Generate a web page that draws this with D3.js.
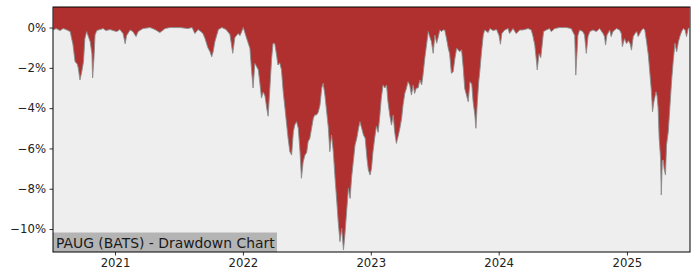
<!DOCTYPE html>
<html><head><meta charset="utf-8">
<script src="https://cdn.jsdelivr.net/npm/d3@7"></script>
<style>body{margin:0;background:#fff}svg{display:block}</style>
</head><body>
<svg id="c" width="700" height="280"></svg>
<script>
const dates = ["2020-07-09","2020-07-17","2020-07-28","2020-08-06","2020-08-14","2020-08-26","2020-09-03","2020-09-09","2020-09-15","2020-09-18","2020-09-23","2020-09-28","2020-10-03","2020-10-07","2020-10-12","2020-10-17","2020-10-22","2020-10-27","2020-10-29","2020-11-02","2020-11-05","2020-11-10","2020-11-19","2020-11-28","2020-12-06","2020-12-18","2020-12-26",
"2021-01-06","2021-01-15","2021-01-24","2021-01-30","2021-02-03","2021-02-13","2021-02-21","2021-03-02","2021-03-08","2021-03-22","2021-04-11","2021-04-25","2021-05-09","2021-05-24","2021-06-07","2021-07-05","2021-07-28","2021-08-09","2021-08-17","2021-08-26","2021-09-03","2021-09-09","2021-09-15","2021-09-23","2021-09-29","2021-10-04","2021-10-08","2021-10-13","2021-10-23","2021-11-02","2021-11-14","2021-11-25","2021-12-03","2021-12-09","2021-12-18","2021-12-24",
"2022-01-02","2022-01-11","2022-01-21","2022-01-26","2022-01-30","2022-02-04","2022-02-08","2022-02-14","2022-02-18","2022-02-23","2022-02-28","2022-03-05","2022-03-10","2022-03-14","2022-03-19","2022-03-24","2022-03-28","2022-04-02","2022-04-07","2022-04-11","2022-04-16","2022-04-21","2022-04-26","2022-05-01","2022-05-05","2022-05-10","2022-05-15","2022-05-20","2022-05-25","2022-05-29","2022-06-03","2022-06-08","2022-06-13","2022-06-17","2022-06-22","2022-06-27","2022-07-02","2022-07-06","2022-07-11","2022-07-16","2022-07-21","2022-07-25","2022-07-30","2022-08-04","2022-08-09","2022-08-14","2022-08-18","2022-08-23","2022-08-28","2022-09-02","2022-09-06","2022-09-11","2022-09-16","2022-09-21","2022-09-26","2022-09-30","2022-10-05","2022-10-10","2022-10-15","2022-10-19","2022-10-24","2022-10-29","2022-11-03","2022-11-07","2022-11-12","2022-11-17","2022-11-22","2022-11-27","2022-12-01","2022-12-06","2022-12-11","2022-12-16","2022-12-21","2022-12-25","2022-12-30",
"2023-01-03","2023-01-07","2023-01-12","2023-01-17","2023-01-22","2023-01-27","2023-01-31","2023-02-05","2023-02-10","2023-02-15","2023-02-19","2023-02-24","2023-03-01","2023-03-06","2023-03-10","2023-03-15","2023-03-20","2023-03-25","2023-03-30","2023-04-03","2023-04-08","2023-04-13","2023-04-17","2023-04-22","2023-04-27","2023-05-02","2023-05-06","2023-05-11","2023-05-16","2023-05-21","2023-05-26","2023-05-30","2023-06-04","2023-06-09","2023-06-14","2023-06-18","2023-06-23","2023-06-28","2023-07-03","2023-07-08","2023-07-12","2023-07-17","2023-07-22","2023-07-26","2023-07-31","2023-08-05","2023-08-10","2023-08-14","2023-08-19","2023-08-24","2023-08-29","2023-09-03","2023-09-07","2023-09-12","2023-09-17","2023-09-22","2023-09-26","2023-10-01","2023-10-06","2023-10-11","2023-10-16","2023-10-20","2023-10-25","2023-10-28","2023-11-01","2023-11-05","2023-11-08","2023-11-13","2023-11-18","2023-11-22","2023-12-02","2023-12-07","2023-12-16","2023-12-26",
"2024-01-02","2024-01-06","2024-01-10","2024-01-18","2024-01-28","2024-02-01","2024-02-11","2024-02-20","2024-03-01","2024-03-10","2024-03-25","2024-04-03","2024-04-08","2024-04-13","2024-04-18","2024-04-20","2024-04-25","2024-04-30","2024-05-05","2024-05-08","2024-05-16","2024-05-25","2024-05-30","2024-06-09","2024-06-23","2024-07-12","2024-07-26","2024-08-05","2024-08-08","2024-08-11","2024-08-14","2024-08-19","2024-08-28","2024-09-02","2024-09-07","2024-09-12","2024-09-17","2024-09-26","2024-10-06","2024-10-15","2024-10-25","2024-10-29","2024-11-01","2024-11-05","2024-11-13","2024-11-17","2024-11-22","2024-12-02","2024-12-11","2024-12-16","2024-12-19","2024-12-25","2024-12-31",
"2025-01-05","2025-01-10","2025-01-14","2025-01-19","2025-01-24","2025-01-29","2025-02-02","2025-02-12","2025-02-17","2025-02-21","2025-02-26","2025-03-03","2025-03-08","2025-03-12","2025-03-15","2025-03-19","2025-03-25","2025-03-28","2025-03-31","2025-04-03","2025-04-07","2025-04-09","2025-04-12","2025-04-15","2025-04-17","2025-04-21","2025-04-24","2025-04-29","2025-05-04","2025-05-09","2025-05-13","2025-05-18","2025-05-23","2025-05-28","2025-06-01","2025-06-06","2025-06-11","2025-06-16","2025-06-20","2025-06-25","2025-06-28"];
const drawdown = [-0.12,-0.05,-0.15,-0.05,-0.1,-0.2,-0.85,-1.7,-1.8,-2.0,-2.6,-2.2,-1.7,-0.55,-0.2,-0.45,-0.7,-1.3,-2.5,-1.5,-0.37,-0.15,-0.1,-0.05,-0.15,-0.1,-0.15,
-0.2,-0.1,-0.3,-0.8,-0.4,-0.12,-0.2,-0.45,-0.2,-0.05,0,-0.1,-0.25,-0.05,0,0,-0.05,0,-0.3,-0.1,-0.2,-0.3,-0.55,-1.0,-1.2,-1.45,-1.2,-0.7,-0.1,0,-0.1,-0.35,-1.28,-0.5,-0.3,-0.4,
0,-0.5,-1.03,-2.19,-3.0,-1.78,-1.9,-2.1,-2.7,-3.5,-3.2,-3.4,-4.0,-4.4,-3.0,-1.53,-0.78,-0.8,-1.36,-1.86,-1.75,-2.1,-3.19,-4.0,-4.67,-5.5,-6.16,-6.33,-5.17,-4.84,-4.67,-5.0,-6.16,-7.48,-6.66,-6.33,-6.2,-5.67,-5.5,-5.0,-4.5,-4.34,-4.34,-4.2,-3.85,-3.0,-2.77,-3.35,-4.18,-5.0,-6.16,-5.33,-6.16,-7.48,-8.65,-9.64,-10.63,-9.97,-11.04,-10.3,-9.14,-7.98,-8.48,-7.48,-6.66,-5.83,-5.5,-5.0,-4.67,-5.0,-5.33,-5.5,-6.49,-7.07,-7.32,
-6.99,-6.2,-5.5,-4.9,-5.2,-4.34,-3.5,-2.85,-3.0,-2.85,-3.68,-4.34,-4.84,-4.34,-5.17,-5.75,-5.4,-5.0,-4.5,-3.85,-3.27,-3.0,-2.69,-2.85,-3.35,-2.85,-3.27,-3.0,-3.0,-2.6,-2.85,-2.36,-1.53,-0.87,-0.2,-0.45,-0.7,-1.28,-0.37,-0.78,-0.5,-0.12,-0.2,-0.12,-0.12,-0.54,-1.03,-1.3,-2.27,-2.2,-1.53,-1.03,-1.1,-1.2,-1.1,-2.03,-3.02,-3.35,-3.68,-2.69,-2.8,-3.68,-4.34,-5.0,-3.7,-2.69,-2.19,-1.2,-0.37,-0.12,-0.25,-0.05,-0.15,-0.1,
-0.4,-0.83,-0.3,-0.12,-0.05,-0.3,-0.05,-0.3,-0.12,-0.12,-0.05,-0.12,-0.45,-0.87,-1.7,-2.1,-1.3,-1.5,-0.7,-0.2,-0.12,-0.05,-0.2,-0.05,0,0,-0.05,-0.4,-2.36,-1.4,-0.4,-0.12,-0.2,-0.37,-1.28,-0.45,-0.2,-0.12,-0.2,-0.05,-0.3,-0.45,-0.87,-0.37,-0.12,-0.45,-0.2,-0.05,-0.12,-0.3,-0.95,-0.55,-0.8,
-0.65,-0.8,-1.12,-0.45,-0.3,-0.2,-0.45,-0.12,-0.05,-0.12,-0.7,-1.36,-2.36,-3.19,-4.18,-3.68,-3.19,-3.4,-4.0,-5.5,-6.49,-8.31,-6.6,-6.58,-6.99,-7.32,-5.83,-5.17,-3.85,-2.52,-1.7,-0.78,-1.2,-0.7,-0.45,-0.2,-0.05,-0.12,-0.45,-0.05,0];
const yTicks = [0,-2,-4,-6,-8,-10];
const xTickYears = [2021,2022,2023,2024,2025];
const title = "PAUG (BATS) - Drawdown Chart";

const parse = d3.timeParse("%Y-%m-%d");
const data = dates.map((d,i)=>({date:parse(d), v:drawdown[i]}));

const L=53, R=690, T=7, B=252;
const svg = d3.select("#c");
const x = d3.scaleTime().domain([parse("2020-07-08"), parse("2025-06-30")]).range([L,R]);
const y = d3.scaleLinear().domain([-11.14, 1.02]).range([B,T]);

svg.append("defs").append("clipPath").attr("id","clip")
  .append("rect").attr("x",L).attr("y",T).attr("width",R-L).attr("height",B-T);

svg.append("rect").attr("x",L).attr("y",T).attr("width",R-L).attr("height",B-T).attr("fill","#eeeeee");

const g = svg.append("g").attr("clip-path","url(#clip)");
g.append("path").datum(data)
  .attr("d", d3.area().x(d=>x(d.date)).y0(T).y1(d=>y(d.v)))
  .attr("fill","#b03030");
g.append("path").datum(data)
  .attr("d", d3.line().x(d=>x(d.date)).y(d=>y(d.v)))
  .attr("fill","none").attr("stroke","#8c8c8c").attr("stroke-width",0.9);

// label
const lab = svg.append("g");
lab.append("rect").attr("x",L).attr("y",232.5).attr("width",224).attr("height",B-232.5).attr("fill","#b4b4b4");
lab.append("text").attr("x",56).attr("y",247.5).attr("font-family","DejaVu Sans").attr("font-size","13.9px")
  .attr("fill","#1a1a1a").text(title);

// axes
const fmt = v => (v<0?"\u2212":"") + Math.abs(v) + "%";
const ya = svg.append("g").attr("transform",`translate(${L},0)`)
  .call(d3.axisLeft(y).tickValues(yTicks).tickFormat(fmt).tickSize(3.5).tickPadding(3.5));
const xa = svg.append("g").attr("transform",`translate(0,${B})`)
  .call(d3.axisBottom(x).tickValues(xTickYears.map(yr=>new Date(yr,0,1))).tickFormat(d3.timeFormat("%Y")).tickSize(3.5).tickPadding(3.5));
[ya,xa].forEach(a=>{
  a.select(".domain").remove();
  a.selectAll("text").attr("font-family","DejaVu Sans").attr("font-size","11.7px").attr("fill","#222");
  a.selectAll("line").attr("stroke","#000").attr("stroke-width",0.8);
});

svg.append("rect").attr("x",L).attr("y",T).attr("width",R-L).attr("height",B-T)
  .attr("fill","none").attr("stroke","#000").attr("stroke-width",1);
</script>
</body></html>
